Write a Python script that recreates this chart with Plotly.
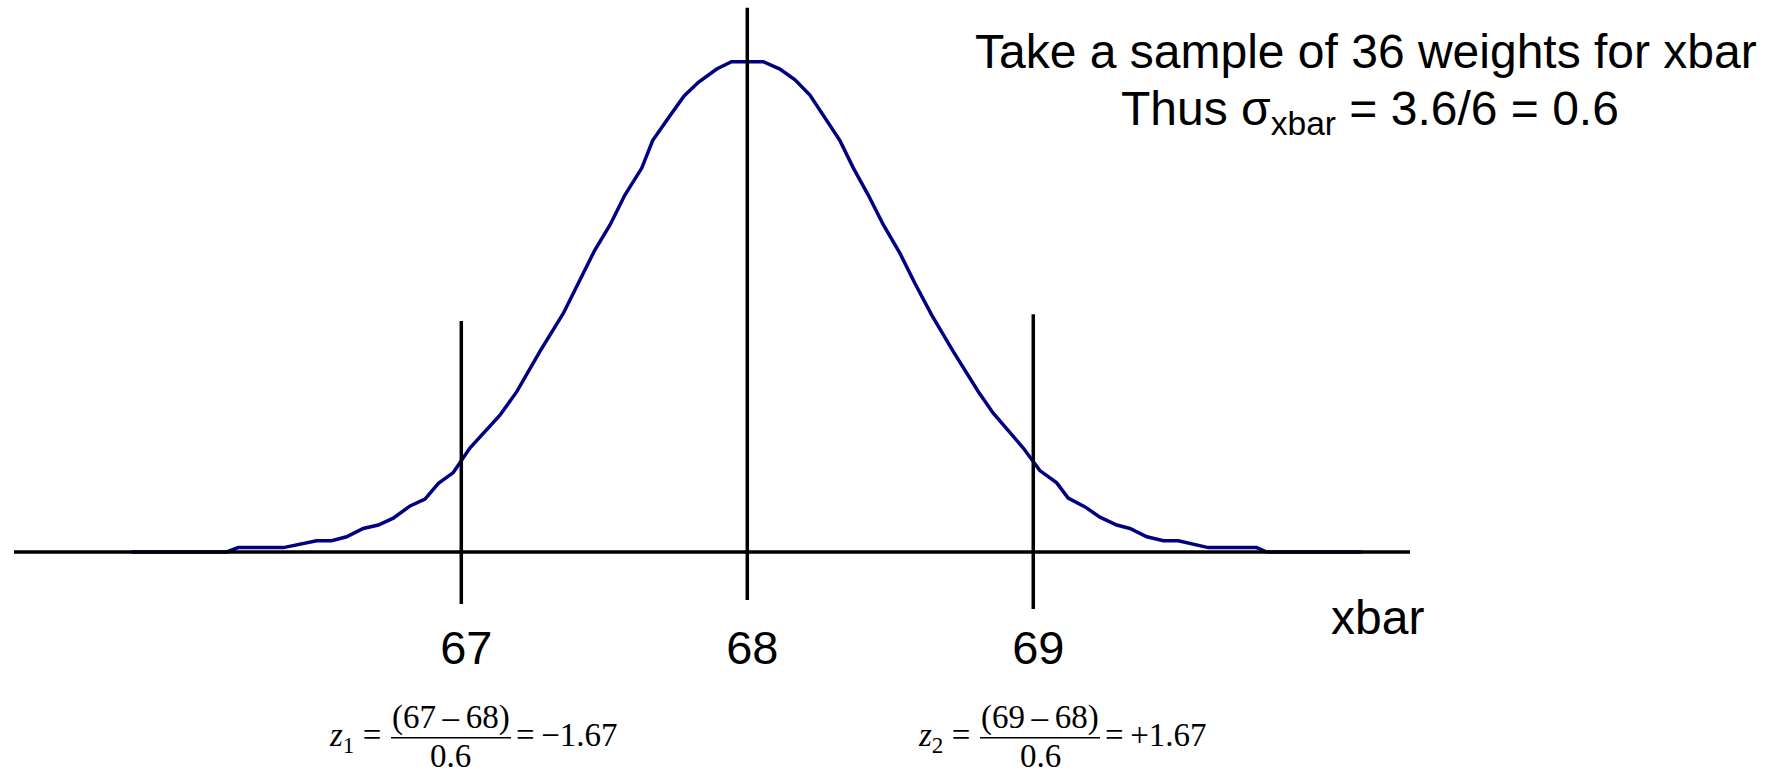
import plotly.graph_objects as go

# Sampling distribution of the mean weight (xbar), heights relative to the peak
xbar_values = [
    65.848, 66.180, 66.220, 66.378, 66.494, 66.547, 66.599, 66.657, 66.710,
    66.762, 66.821, 66.873, 66.920, 66.972, 67.030, 67.135, 67.194, 67.275,
    67.357, 67.415, 67.467, 67.520, 67.572, 67.631, 67.669, 67.724, 67.779,
    67.829, 67.893, 67.945, 68.056, 68.114, 68.167, 68.219, 68.272, 68.324,
    68.371, 68.423, 68.476, 68.534, 68.586, 68.645, 68.720, 68.808, 68.860,
    68.965, 69.023, 69.082, 69.122, 69.181, 69.233, 69.292, 69.338, 69.397,
    69.455, 69.507, 69.612, 69.781, 69.816, 70.148,
]
density_values = [
    0.000, 0.000, 0.009, 0.009, 0.023, 0.023, 0.031, 0.048, 0.055,
    0.069, 0.094, 0.108, 0.140, 0.162, 0.212, 0.279, 0.327, 0.409,
    0.487, 0.555, 0.616, 0.667, 0.728, 0.783, 0.839, 0.885, 0.930,
    0.958, 0.985, 1.000, 1.000, 0.985, 0.963, 0.932, 0.885, 0.839,
    0.783, 0.728, 0.667, 0.609, 0.548, 0.483, 0.409, 0.327, 0.283,
    0.212, 0.166, 0.141, 0.110, 0.092, 0.071, 0.055, 0.048, 0.031,
    0.023, 0.023, 0.009, 0.009, 0.000, 0.000,
]
tick_values = [67, 68, 69]
tick_labels = ["67", "68", "69"]
z_labels = ["−1.67", "", "+1.67"]
mean_weight = 68
sample_size = 36
sigma_pop = 3.6
sigma_xbar = 0.6

W, H = 1784, 775
SANS = "Liberation Sans, Arial, sans-serif"
SERIF = "Liberation Serif, Times New Roman, serif"
THIN = "\u2009"


def px(x):
    return x / W


def py(y):
    return 1 - y / H


fig = go.Figure()
fig.add_trace(go.Scatter(
    x=xbar_values, y=density_values, mode="lines",
    line=dict(color="#000080", width=3.5), hoverinfo="skip", showlegend=False,
))

shapes = []
# horizontal baseline
shapes.append(dict(type="line", xref="paper", yref="y", x0=px(14), x1=px(1410),
                   y0=0, y1=0, line=dict(color="black", width=3.5), layer="above"))
# vertical markers at 67, 68 and 69 (lower / upper end in y units)
marker_span = {67: (-0.106, 0.471), 68: (-0.098, 1.11), 69: (-0.116, 0.485)}
for v in tick_values:
    lo, hi = marker_span[v]
    shapes.append(dict(type="line", xref="x", yref="y", x0=v, x1=v, y0=lo, y1=hi,
                       line=dict(color="black", width=3.5), layer="above"))

annotations = []


def text(x, baseline, s, size, family, xanchor="center", ascent=0.905):
    annotations.append(dict(
        xref="paper", yref="paper", x=px(x), y=py(baseline - ascent * size), text=s,
        showarrow=False, xanchor=xanchor, yanchor="top", borderpad=0, borderwidth=0,
        font=dict(family=family, size=size, color="black"),
    ))


# heading
text(1366, 68, f"Take a sample of {sample_size} weights for xbar", 48, SANS)
text(1370, 125,
     f"Thus σ<sub>xbar</sub> = {sigma_pop}/{int(sample_size ** 0.5)} = {sigma_xbar}", 48, SANS)
# axis name
text(1377, 634, "xbar", 48, SANS)

# z-score formulas under the 67 and 69 markers
fs = 33
formula_slots = {67: (391.0, "1"), 69: (980.0, "2")}
for v, zval in zip(tick_values, z_labels):
    if v not in formula_slots:
        continue
    lo_x, zname = formula_slots[v]
    bar_w = 120
    cx = lo_x + bar_w / 2
    text(lo_x - 10, 746, f"<i>z</i><sub>{zname}</sub> =", fs, SERIF, "right", 0.891)
    text(cx, 728, f"({v}{THIN}–{THIN}{mean_weight})", fs, SERIF, "center", 0.891)
    text(cx, 767, f"{sigma_xbar}", fs, SERIF, "center", 0.891)
    text(lo_x + bar_w + 5, 746, f"={THIN}{zval}", fs, SERIF, "left", 0.891)
    shapes.append(dict(type="line", xref="paper", yref="paper", x0=px(lo_x), x1=px(lo_x + bar_w),
                       y0=py(737.7), y1=py(737.7), line=dict(color="black", width=1.5)))

fig.update_layout(
    width=W, height=H, margin=dict(l=0, r=0, t=0, b=0),
    paper_bgcolor="white", plot_bgcolor="white",
    shapes=shapes, annotations=annotations,
    xaxis=dict(range=[65.387, 71.625], showgrid=False, zeroline=False, showline=False,
               tickvals=tick_values, ticktext=tick_labels, ticks="",
               anchor="free", position=py(616), ticklabelshift=5,
               tickfont=dict(family=SANS, size=47, color="black"), fixedrange=True),
    yaxis=dict(range=[-0.4548, 1.1258], visible=False, fixedrange=True),
)

fig.write_html("out.html")
